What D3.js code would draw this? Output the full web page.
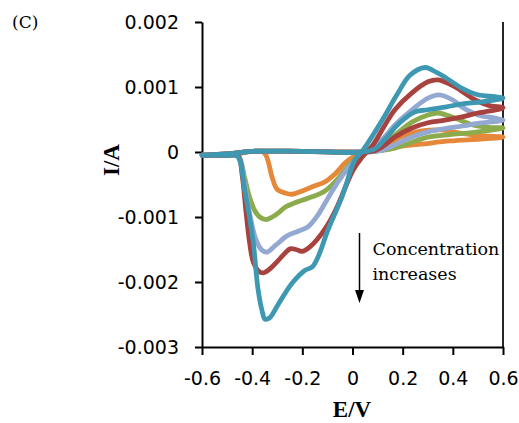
<!DOCTYPE html>
<html>
<head>
<meta charset="utf-8">
<script src="https://cdn.jsdelivr.net/npm/d3@7"></script>
<style>
  html, body { margin: 0; padding: 0; background: #fff; }
  .cv__axis text { font-family: "DejaVu Sans", sans-serif; font-size: 19px; fill: #000; }
  .cv__axis path, .cv__axis line { stroke: #000; stroke-width: 2; }
  .cv__title { font-family: "Liberation Serif", serif; font-weight: bold; font-size: 23px; }
  .cv__note { font-family: "DejaVu Serif", serif; font-size: 17.5px; }
  .cv__label { font-family: "DejaVu Serif", serif; font-size: 17px; }
  .cv__line { fill: none; stroke-width: 4.8; stroke-linejoin: round; stroke-linecap: round; }
</style>
</head>
<body>
<div id="chart"></div>
<script>
// tick values and labels
const xTicks = [-0.6, -0.4, -0.2, 0, 0.2, 0.4, 0.6];
const xTickLabels = ['-0.6', '-0.4', '-0.2', '0', '0.2', '0.4', '0.6'];
const yTicks = [0.002, 0.001, 0, -0.001, -0.002, -0.003];
const yTickLabels = ['0.002', '0.001', '0', '-0.001', '-0.002', '-0.003'];

// each voltammogram is a closed loop of [E (V), I (A)]:
// forward scan from -0.6 to 0.6, then back to -0.6
const orange = [
  [-0.6, -0.00005], [-0.5, -0.00005], [-0.45, -0.00002], [-0.4, 0.00001], [-0.36, 0.00001],
  [-0.345, -0.00005], [-0.335, -0.00016], [-0.321, -0.00038], [-0.301, -0.00057],
  [-0.269, -0.00063], [-0.241, -0.00065], [-0.201, -0.0006], [-0.15, -0.00052],
  [-0.11, -0.00046], [-0.07, -0.00034], [-0.03, -0.00017], [0.0, -0.00008], [0.05, 0.0],
  [0.11, 0.00008], [0.15, 0.00015], [0.21, 0.00026], [0.27, 0.00032], [0.35, 0.00034],
  [0.43, 0.00029], [0.51, 0.00025], [0.6, 0.00023],
  [0.51, 0.0002], [0.39, 0.00017], [0.27, 0.00012], [0.17, 0.00008], [0.09, 0.00003],
  [0.03, 0.0], [-0.2, 0.00001], [-0.4, 0.00001], [-0.45, -0.00001], [-0.5, -0.00003], [-0.6, -0.00005],
];

const green = [
  [-0.6, -0.00005], [-0.5, -0.00005], [-0.456, -0.00006], [-0.43, -0.0004], [-0.41, -0.0007],
  [-0.39, -0.0009], [-0.37, -0.001], [-0.345, -0.00104], [-0.32, -0.001], [-0.29, -0.00092],
  [-0.269, -0.00085], [-0.229, -0.00078], [-0.161, -0.00069], [-0.11, -0.0006],
  [-0.07, -0.00046], [-0.03, -0.00028], [0.0, -0.00015], [0.04, -0.00002], [0.11, 0.00008],
  [0.169, 0.00026], [0.237, 0.00046], [0.301, 0.00057], [0.341, 0.0006], [0.409, 0.00052],
  [0.476, 0.00042], [0.54, 0.00038], [0.6, 0.00037],
  [0.5, 0.00031], [0.369, 0.00026], [0.301, 0.00023], [0.237, 0.00015], [0.169, 0.00006],
  [0.11, 0.00002], [0.06, 0.0], [-0.2, 0.00001], [-0.4, 0.00001], [-0.45, -0.00001], [-0.5, -0.00003], [-0.6, -0.00005],
];

const lightBlue = [
  [-0.6, -0.00005], [-0.5, -0.00005], [-0.456, -0.00006], [-0.433, -0.00043], [-0.409, -0.00097],
  [-0.385, -0.00135], [-0.361, -0.00151], [-0.341, -0.00154], [-0.305, -0.00143],
  [-0.261, -0.00129], [-0.217, -0.00122], [-0.177, -0.00115], [-0.138, -0.00097],
  [-0.098, -0.00071], [-0.058, -0.00046], [-0.018, -0.00025], [0.022, -0.00008], [0.06, 0.00003],
  [0.12, 0.0002], [0.17, 0.00042], [0.237, 0.00065], [0.301, 0.00083], [0.345, 0.00088],
  [0.4, 0.0008], [0.437, 0.00069], [0.5, 0.00057], [0.568, 0.00052], [0.6, 0.00049],
  [0.5, 0.00044], [0.44, 0.0004], [0.37, 0.00036], [0.3, 0.00031], [0.237, 0.00023],
  [0.169, 0.00011], [0.11, 0.00002], [0.06, 0.0], [-0.2, 0.00001], [-0.4, 0.00001], [-0.45, -0.00001], [-0.5, -0.00003], [-0.6, -0.00005],
];

const red = [
  [-0.6, -0.00005], [-0.5, -0.00005], [-0.456, -0.00006], [-0.44, -0.00035], [-0.425, -0.0009],
  [-0.41, -0.0014], [-0.395, -0.0017], [-0.375, -0.00183], [-0.357, -0.00186], [-0.33, -0.0018],
  [-0.301, -0.00169], [-0.27, -0.00156], [-0.249, -0.00149], [-0.225, -0.0015], [-0.201, -0.00153],
  [-0.17, -0.00146], [-0.142, -0.00135], [-0.102, -0.00114], [-0.062, -0.00085], [-0.026, -0.00052],
  [0.002, -0.00028], [0.038, -0.00008], [0.08, 0.0001], [0.13, 0.00042], [0.169, 0.00065],
  [0.237, 0.00091], [0.301, 0.00108], [0.341, 0.00111], [0.409, 0.001], [0.476, 0.00083],
  [0.54, 0.00072], [0.6, 0.00068],
  [0.5, 0.0006], [0.437, 0.00054], [0.369, 0.00049], [0.301, 0.00045], [0.237, 0.00037],
  [0.169, 0.00023], [0.13, 0.00011], [0.09, 0.00002], [0.05, 0.0], [-0.2, 0.00001], [-0.4, 0.00001], [-0.45, -0.00001], [-0.5, -0.00003], [-0.6, -0.00005],
];

const teal = [
  [-0.6, -0.00005], [-0.5, -0.00005], [-0.458, -0.00007], [-0.43, -0.00058], [-0.397, -0.00135],
  [-0.377, -0.0021], [-0.36, -0.00245], [-0.349, -0.00257], [-0.33, -0.00255], [-0.297, -0.00235],
  [-0.241, -0.00202], [-0.189, -0.00182], [-0.161, -0.00177], [-0.138, -0.00162], [-0.098, -0.0012],
  [-0.042, -0.00069], [0.01, -0.00012], [0.042, 0.00003], [0.12, 0.0005], [0.177, 0.00088],
  [0.229, 0.00118], [0.289, 0.0013], [0.337, 0.00122], [0.369, 0.00115], [0.437, 0.00098],
  [0.5, 0.00088], [0.568, 0.00085], [0.6, 0.00083],
  [0.516, 0.00077], [0.437, 0.00074], [0.369, 0.00069], [0.301, 0.00065], [0.25, 0.00062],
  [0.21, 0.00052], [0.17, 0.00038], [0.13, 0.0002], [0.09, 0.00005], [0.04, 0.0],
  [-0.2, 0.00001], [-0.4, 0.00001], [-0.45, -0.00001], [-0.5, -0.00003], [-0.6, -0.00005],
];

const series = [orange, green, lightBlue, red, teal];
const seriesColors = ['#e5883a', '#8cab4c', '#93a9d2', '#a8423f', '#3e98b1'];

class CvChart {
  constructor(element, options) {
    const defaults = {
      width: 519,
      height: 423,
      margin: { top: 22, right: 16, bottom: 76, left: 202 },
    };
    this.element = element;
    Object.assign(this, defaults, options);
    this.init();
  }

  init() {
    const { element, width, height, margin } = this;
    const innerWidth = width - margin.left - margin.right;
    const innerHeight = height - margin.top - margin.bottom;
    this.innerWidth = innerWidth;
    this.innerHeight = innerHeight;

    this.root = d3.select(element)
      .append('svg')
      .attr('width', width)
      .attr('height', height);

    this.svg = this.root.append('g')
      .attr('transform', `translate(${margin.left}, ${margin.top})`);

    this.scaleX = d3.scaleLinear().domain([-0.6, 0.6]).range([0, innerWidth]);
    this.scaleY = d3.scaleLinear().domain([-0.003, 0.002]).range([innerHeight, 0]);

    this.line = d3.line()
      .curve(d3.curveCatmullRom.alpha(0.5))
      .x(d => this.scaleX(d[0]))
      .y(d => this.scaleY(d[1]));
  }

  renderAxis() {
    const { svg, scaleX, scaleY, innerWidth, innerHeight } = this;

    svg.append('g')
      .attr('class', 'cv__axis cv__axis--x')
      .attr('transform', `translate(0, ${innerHeight})`)
      .call(d3.axisBottom(scaleX)
        .tickValues(xTicks)
        .tickFormat((d, i) => xTickLabels[i])
        .tickSizeInner(8)
        .tickSizeOuter(0)
        .tickPadding(17));

    svg.append('g')
      .attr('class', 'cv__axis cv__axis--y')
      .call(d3.axisLeft(scaleY)
        .tickValues(yTicks)
        .tickFormat((d, i) => yTickLabels[i])
        .tickSizeInner(7)
        .tickSizeOuter(0)
        .tickPadding(16));

    // right frame line
    svg.append('line')
      .attr('x1', innerWidth).attr('x2', innerWidth)
      .attr('y1', 0).attr('y2', innerHeight)
      .attr('stroke', '#000')
      .attr('stroke-width', 1.7);
  }

  renderLines() {
    const { svg, line } = this;
    svg.selectAll('.cv__line')
      .data(series)
      .enter()
      .append('path')
      .attr('class', 'cv__line')
      .attr('stroke', (d, i) => seriesColors[i])
      .attr('d', line);
  }

  renderText() {
    const { root } = this;

    root.append('text')
      .attr('class', 'cv__label')
      .attr('x', 12).attr('y', 28)
      .text('(C)');

    root.append('text')
      .attr('class', 'cv__title')
      .attr('transform', 'translate(119, 160) rotate(-90)')
      .attr('text-anchor', 'middle')
      .text('I/A');

    root.append('text')
      .attr('class', 'cv__title')
      .attr('x', 352).attr('y', 417)
      .attr('text-anchor', 'middle')
      .text('E/V');

    root.append('text').attr('class', 'cv__note')
      .attr('x', 372.5).attr('y', 254.5)
      .text('Concentration');
    root.append('text').attr('class', 'cv__note')
      .attr('x', 372.5).attr('y', 280)
      .text('increases');

    // arrow
    root.append('line')
      .attr('x1', 359.5).attr('x2', 359.5)
      .attr('y1', 233).attr('y2', 293)
      .attr('stroke', '#000')
      .attr('stroke-width', 1.5);
    root.append('path')
      .attr('d', 'M355,290 L364,290 L359.5,303 Z')
      .attr('fill', '#000');
  }

  render() {
    this.renderAxis();
    this.renderLines();
    this.renderText();
  }
}

new CvChart(document.getElementById('chart')).render();
</script>
</body>
</html>
